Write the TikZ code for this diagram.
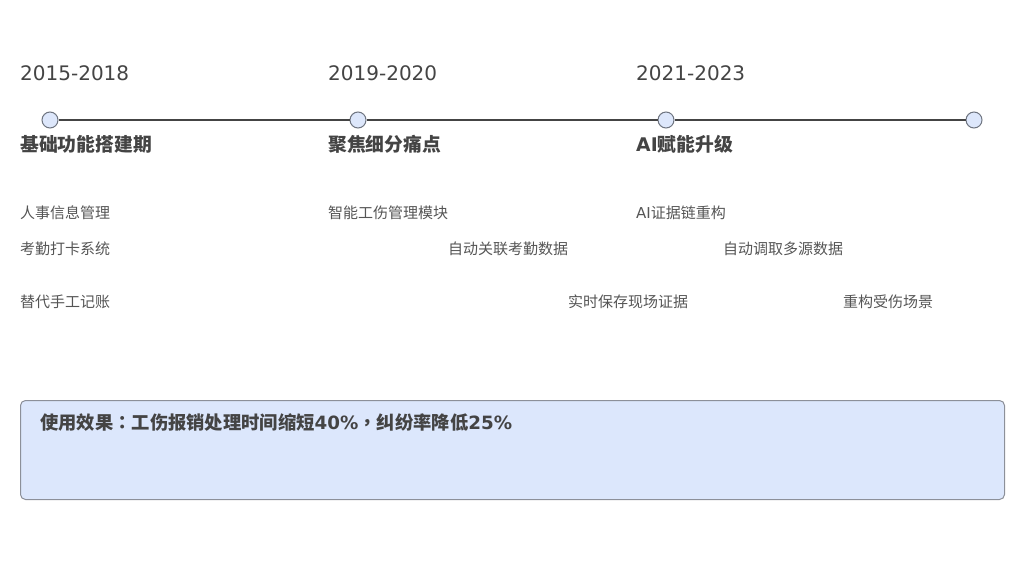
\documentclass[tikz,border=0pt]{standalone}
\usepackage{fontspec}
\setmainfont{Noto Sans CJK SC}
\newfontfamily\latinfont{DejaVu Sans}
\newfontfamily\punctfont{Noto Sans CJK TC}
\definecolor{inkdark}{HTML}{444444}
\definecolor{inkitem}{HTML}{555555}
\definecolor{dotfill}{HTML}{DDE7FB}
\definecolor{dotline}{HTML}{6E7480}
\definecolor{boxfill}{HTML}{DCE7FC}
\definecolor{boxline}{HTML}{8C9099}
\newcommand\lt[1]{{\latinfont #1}}
\newcommand\pc[1]{{\punctfont #1}}

\begin{document}
\begin{tikzpicture}[x=1pt,y=-1pt,
  year/.style={anchor=west,inner sep=0pt,text=inkdark,font=\fontsize{20}{24}\selectfont\latinfont},
  phase/.style={anchor=west,inner sep=0pt,text=inkdark,font=\fontsize{18.8}{22}\selectfont\bfseries},
  item/.style={anchor=west,inner sep=0pt,text=inkitem,font=\fontsize{15}{18}\selectfont},
  dot/.style={shape=circle,draw=dotline,fill=dotfill,line width=1pt,minimum size=16pt,inner sep=0pt}]
\useasboundingbox (0,0) rectangle (1024,576);
\node (d1) at ( 50,120) [dot] {};
\node (d2) at (358,120) [dot] {};
\node (d3) at (666,120) [dot] {};
\node (d4) at (974,120) [dot] {};
\draw [inkdark,line width=1.7pt] (d1) -- (d2);
\draw [inkdark,line width=1.7pt] (d2) -- (d3);
\draw [inkdark,line width=1.7pt] (d3) -- (d4);
\node (y1) at ( 20,73) [year] {2015-2018};
\node (y2) at (328,73) [year] {2019-2020};
\node (y3) at (636,73) [year] {2021-2023};
\node (p1) at ( 20,144) [phase] {基础功能搭建期};
\node (p2) at (328,144) [phase] {聚焦细分痛点};
\node (p3) at (636,144) [phase] {\lt{AI}赋能升级};
\node (a1) at ( 20,213) [item] {人事信息管理};
\node (a2) at ( 20,249) [item] {考勤打卡系统};
\node (a3) at ( 20,302) [item] {替代手工记账};
\node (b1) at (328,213) [item] {智能工伤管理模块};
\node (b2) at (448,249) [item] {自动关联考勤数据};
\node (b3) at (568,302) [item] {实时保存现场证据};
\node (c1) at (636,213) [item] {\lt{AI}证据链重构};
\node (c2) at (723,249) [item] {自动调取多源数据};
\node (c3) at (843,302) [item] {重构受伤场景};
\node (box) at (20,400) [anchor=north west,draw=boxline,fill=boxfill,line width=1pt,
  rounded corners=5pt,minimum width=984pt,minimum height=99pt] {};
\node (effect) at (40,423) [phase,font=\fontsize{18.3}{21}\selectfont\bfseries]
  {使用效果\pc{：}工伤报销处理时间缩短\lt{40\%}\pc{，}纠纷率降低\lt{25\%}};
\end{tikzpicture}
\end{document}
